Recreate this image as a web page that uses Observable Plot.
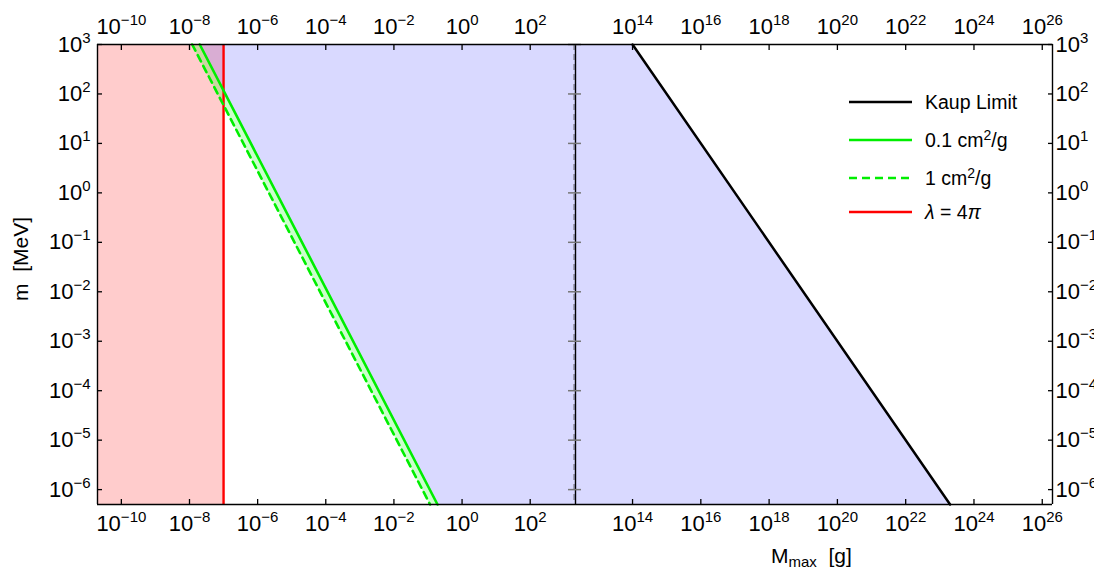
<!DOCTYPE html>
<html><head><meta charset="utf-8">
<script src="https://cdn.jsdelivr.net/npm/d3@7"></script>
<script src="https://cdn.jsdelivr.net/npm/@observablehq/plot@0.6"></script>
<style>
body{margin:0;background:#fff;font-family:"Liberation Sans",Arial,sans-serif;}
#wrap{position:relative;width:1094px;height:574px;overflow:hidden;background:#fff;}
#wrap > svg{position:absolute;top:0;overflow:visible;}
.lab{position:absolute;font-size:21px;color:#000;white-space:nowrap;}
.leg{position:absolute;left:849px;font-size:19.5px;color:#000;white-space:nowrap;display:flex;align-items:center;}
.leg svg{width:63px;height:6px;margin-right:13px;overflow:visible;}
.leg sup{font-size:14px;vertical-align:7px;line-height:0;}
</style></head><body><div id="wrap"></div>
<script>
// ---- data ----
const mEnds = [1e3, 5e-7];                 // m [MeV] at top / bottom of frame
const yDomain = [5e-7, 1e3];               // m axis range
const xLeftDomain = [10 ** -10.7, 10 ** 3.3];   // M_max [g], left segment
const xRightDomain = [10 ** 12.3, 10 ** 26.3];  // M_max [g], right segment
const mTicks = [1e3, 1e2, 1e1, 1e0, 1e-1, 1e-2, 1e-3, 1e-4, 1e-5, 1e-6];
const xTicksLeft = [1e-10, 1e-8, 1e-6, 1e-4, 1e-2, 1e0, 1e2];
const xTicksRight = [1e14, 1e16, 1e18, 1e20, 1e22, 1e24, 1e26];
const kaupM = [1e14, 2.0e23];              // Kaup limit
const sigma01M = [2.0e-8, 0.19];           // 0.1 cm^2/g
const sigma1M = [1.2e-8, 0.115];           // 1 cm^2/g
const lambdaM = [1e-7];                    // lambda = 4 pi

// ---- tables ----
const kaup = mEnds.map((m, i) => ({m, M: kaupM[i]}));
const s01 = mEnds.map((m, i) => ({m, M: sigma01M[i]}));
const s1 = mEnds.map((m, i) => ({m, M: sigma1M[i]}));
const band = mEnds.map((m, i) => ({m, lo: sigma1M[i], hi: sigma01M[i]}));
const redBox = [{x1: xLeftDomain[0], x2: lambdaM[0], y1: yDomain[0], y2: yDomain[1]}];

const GREEN = "#00ee00", RED = "#ff0000";
const FS = 22;
const fmt = d => "10^" + Math.round(Math.log10(d));
const common = {
  height: 574, marginTop: 44, marginBottom: 70,
  y: {type: "log", domain: yDomain},
  style: {fontSize: FS + "px", fontFamily: "Liberation Sans, Arial, sans-serif", color: "#000", background: "transparent", overflow: "visible"}
};
const ax = {label: null, tickFormat: fmt, strokeWidth: 1.3, fontSize: FS};

const left = Plot.plot({
  ...common,
  width: 574, marginLeft: 97, marginRight: 0,
  x: {type: "log", domain: xLeftDomain},
  marks: [
    Plot.rect(redBox, {x1: "x1", x2: "x2", y1: "y1", y2: "y2", fill: RED, fillOpacity: 0.2}),
    Plot.areaX(s01, {y: "m", x1: "M", x2: () => xLeftDomain[1], fill: "#0000ff", fillOpacity: 0.15}),
    Plot.areaX(band, {y: "m", x1: "lo", x2: "hi", fill: "#00ff00", fillOpacity: 0.2}),
    Plot.ruleX(lambdaM, {stroke: RED, strokeWidth: 2.4}),
    Plot.line(s1, {x: "M", y: "m", stroke: GREEN, strokeWidth: 2.6, strokeDasharray: "7,5"}),
    Plot.line(s01, {x: "M", y: "m", stroke: GREEN, strokeWidth: 2.6}),
    Plot.ruleX([xLeftDomain[1]], {stroke: "#888", strokeWidth: 1.3, strokeDasharray: "6,4", dx: -0.5}),
    Plot.ruleY(mTicks, {x1: () => xLeftDomain[1], x2: () => xLeftDomain[1], insetLeft: -6, stroke: "#777", strokeWidth: 1.5}),
    Plot.ruleY([yDomain[1]], {x1: () => xLeftDomain[0], x2: () => xLeftDomain[1], stroke: "#000", strokeWidth: 1.4}),
    Plot.ruleY([yDomain[0]], {x1: () => xLeftDomain[0], x2: () => xLeftDomain[1], stroke: "#000", strokeWidth: 1.4}),
    Plot.ruleX([xLeftDomain[0]], {stroke: "#000", strokeWidth: 1.4}),
    Plot.axisY(mTicks, {...ax, anchor: "left", tickSize: -5, tickPadding: 12}),
    Plot.axisX(xTicksLeft, {...ax, anchor: "top", tickSize: -5, tickPadding: 16}),
    Plot.axisX(xTicksLeft, {...ax, anchor: "bottom", tickSize: -5, tickPadding: 16})
  ]
});

const right = Plot.plot({
  ...common,
  width: 520, marginLeft: 0, marginRight: 42,
  x: {type: "log", domain: xRightDomain},
  marks: [
    Plot.areaX(kaup, {y: "m", x1: () => xRightDomain[0], x2: "M", fill: "#0000ff", fillOpacity: 0.15}),
    Plot.line(kaup, {x: "M", y: "m", stroke: "#000", strokeWidth: 2.5}),
    Plot.ruleX([xRightDomain[0]], {stroke: "#000", strokeWidth: 1.4, dx: 1}),
    Plot.ruleY(mTicks, {x1: () => xRightDomain[0], x2: () => xRightDomain[0], insetRight: -7, stroke: "#777", strokeWidth: 1.5}),
    Plot.ruleY([yDomain[1]], {x1: () => xRightDomain[0], x2: () => xRightDomain[1], stroke: "#000", strokeWidth: 1.4}),
    Plot.ruleY([yDomain[0]], {x1: () => xRightDomain[0], x2: () => xRightDomain[1], stroke: "#000", strokeWidth: 1.4}),
    Plot.ruleX([xRightDomain[1]], {stroke: "#000", strokeWidth: 1.4}),
    Plot.axisY(mTicks, {...ax, anchor: "right", tickSize: -5, tickPadding: 8}),
    Plot.axisX(xTicksRight, {...ax, anchor: "top", tickSize: -5, tickPadding: 16}),
    Plot.axisX(xTicksRight, {...ax, anchor: "bottom", tickSize: -5, tickPadding: 16})
  ]
});

function superscripts(svg) {
  svg.querySelectorAll("text").forEach(t => {
    const m = /^10\^(.+)$/.exec(t.textContent);
    if (!m) return;
    t.textContent = "10";
    t.setAttribute("font-size", FS);
    const ts = document.createElementNS("http://www.w3.org/2000/svg", "tspan");
    ts.setAttribute("font-size", "15");
    ts.setAttribute("dy", "-9");
    ts.textContent = m[1].replace("-", "\u2212");
    t.appendChild(ts);
  });
}
superscripts(left); superscripts(right);

const wrap = document.getElementById("wrap");
left.style.left = "0px";
right.style.left = "574px";
wrap.appendChild(left);
wrap.appendChild(right);

// axis titles
const yl = document.createElement("div");
yl.className = "lab";
yl.innerHTML = "m&nbsp;&nbsp;[MeV]";
yl.style.cssText = "left:21px;top:259px;transform:translate(-50%,-50%) rotate(-90deg);";
wrap.appendChild(yl);
const xl = document.createElement("div");
xl.className = "lab";
xl.innerHTML = "M<sub style='font-size:15px;vertical-align:-4px'>max</sub>&nbsp;&nbsp;[g]";
xl.style.cssText = "left:771px;top:544px;";
wrap.appendChild(xl);

// legend
const legendItems = [
  {label: "Kaup Limit", stroke: "#000", dash: null, y: 102},
  {label: "0.1 cm<sup>2</sup>/g", stroke: GREEN, dash: null, y: 140},
  {label: "1 cm<sup>2</sup>/g", stroke: GREEN, dash: "8,5", y: 178},
  {label: "<i>λ</i> = 4<i>π</i>", stroke: RED, dash: null, y: 212}
];
legendItems.forEach(it => {
  const row = document.createElement("div");
  row.className = "leg";
  row.style.top = (it.y - 12) + "px";
  row.style.height = "24px";
  row.innerHTML = `<svg viewBox="0 0 63 6"><line x1="0" y1="3" x2="63" y2="3" stroke="${it.stroke}" stroke-width="2.6" ${it.dash ? `stroke-dasharray="${it.dash}"` : ""}/></svg><span>${it.label}</span>`;
  wrap.appendChild(row);
});
</script></body></html>
